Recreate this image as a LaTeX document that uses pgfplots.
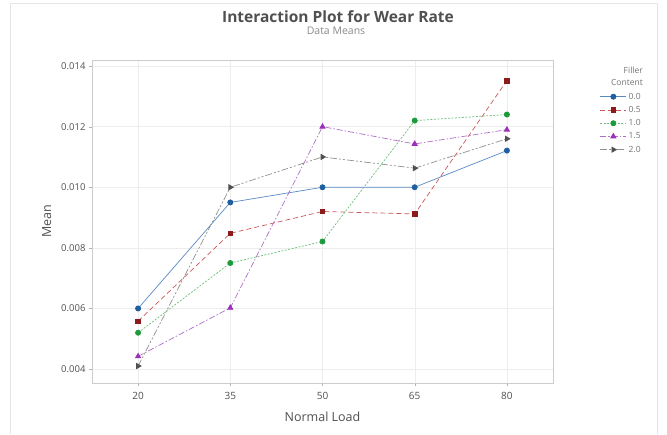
\documentclass[border=0pt]{standalone}
\usepackage{pgfplots}
\pgfplotsset{compat=1.18}
\usepackage{fontspec}
\setmainfont{Open Sans}
\definecolor{cb}{HTML}{1F5F9F}\definecolor{lb}{HTML}{5A8AC6}
\definecolor{cr}{HTML}{8C1C1C}\definecolor{lr}{HTML}{C8585A}
\definecolor{cg}{HTML}{1E9A3C}\definecolor{lg}{HTML}{6CC07A}
\definecolor{cp}{HTML}{9B30B8}\definecolor{lp}{HTML}{B070C8}
\definecolor{cy}{HTML}{505050}\definecolor{ly}{HTML}{909090}
\definecolor{txt}{HTML}{505050}
\begin{document}
\begin{tikzpicture}
\path[fill=white] (-92pt,-51pt) rectangle (575pt,383pt);
\draw[black!10] (565pt,-51pt) -- (565pt,380pt) -- (-82pt,380pt) -- (-82pt,-51pt);
\begin{axis}[
  at={(0pt,0pt)}, anchor=south west,
  scale only axis, width=461pt, height=323pt,
  xmin=-0.5, xmax=4.5, ymin=0.00354, ymax=0.0142,
  xtick={0,1,2,3,4}, xticklabels={20,35,50,65,80},
  ytick={0.004,0.006,0.008,0.010,0.012,0.014},
  /pgf/number format/assume math mode=true,
  yticklabel style={/pgf/number format/fixed,/pgf/number format/precision=3,/pgf/number format/fixed zerofill},
  scaled y ticks=false,
  tick label style={font=\fontsize{9.5}{11}\selectfont, text=txt},
  xticklabel style={font=\fontsize{10}{11}\selectfont, text=txt, yshift=-3pt},
  xlabel={Normal Load}, ylabel={Mean},
  label style={font=\fontsize{12.5}{14}\selectfont, text=txt},
  xlabel style={yshift=-5pt},
  ylabel style={yshift=3pt},
  grid=major, major grid style={black!7},
  axis line style={black!20},
  tick style={black!30}, major tick length=3pt, tick align=outside,
  xtick pos=bottom, ytick pos=left,
  legend style={at={(1.195,0.905)}, anchor=north east, draw=none, fill=none,
    font=\fontsize{8.5}{9}\selectfont, text=black!55, row sep=1.6pt,
    inner sep=0pt, /tikz/every even column/.style={column sep=32pt}},
  legend cell align=right,
  legend image code/.code={\draw[mark repeat=2,mark phase=2,#1] plot coordinates {(0pt,0pt) (13pt,0pt) (26pt,0pt)};},
  every axis plot/.append style={line width=0.7pt, mark size=2.6pt},
]
\addplot[color=lb, mark=*, mark options={fill=cb, draw=cb, solid}] coordinates {(0,0.0060)(1,0.0095)(2,0.0100)(3,0.0100)(4,0.01121)};
\addplot[color=lr, dash pattern=on 5pt off 3pt, mark=square*, mark options={fill=cr, draw=cr, solid, mark size=2.3pt}] coordinates {(0,0.00558)(1,0.00848)(2,0.0092)(3,0.00912)(4,0.01352)};
\addplot[color=lg, dash pattern=on 2pt off 1.5pt, mark=*, mark options={fill=cg, draw=cg, solid}] coordinates {(0,0.0052)(1,0.0075)(2,0.00821)(3,0.0122)(4,0.0124)};
\addplot[color=lp, dash pattern=on 6pt off 2pt on 1.5pt off 2pt, mark=triangle*, mark options={fill=cp, draw=cp, solid, mark size=3pt}] coordinates {(0,0.00442)(1,0.00602)(2,0.0120)(3,0.01143)(4,0.0119)};
\addplot[color=ly, dash pattern=on 7pt off 2pt on 2pt off 2pt on 2pt off 2pt, mark=triangle*, mark options={fill=cy, draw=cy, solid, rotate=-90, mark size=3pt}] coordinates {(0,0.0041)(1,0.0100)(2,0.0110)(3,0.01063)(4,0.0116)};
\legend{0.0,0.5,1.0,1.5,2.0}
\end{axis}
\node[anchor=north east, align=right, text=black!55, font=\fontsize{8.5}{12}\selectfont, inner sep=0pt] at (551pt,316pt) {Filler\\Content};
\node[text=txt, font=\bfseries\fontsize{15.5}{17}\selectfont] at (246pt,366pt) {Interaction Plot for Wear Rate};
\node[text=black!45, font=\fontsize{10.5}{12}\selectfont] at (244pt,352pt) {Data Means};
\pgfresetboundingbox
\useasboundingbox (-92pt,-51pt) rectangle (575pt,383pt);
\end{tikzpicture}
\end{document}
